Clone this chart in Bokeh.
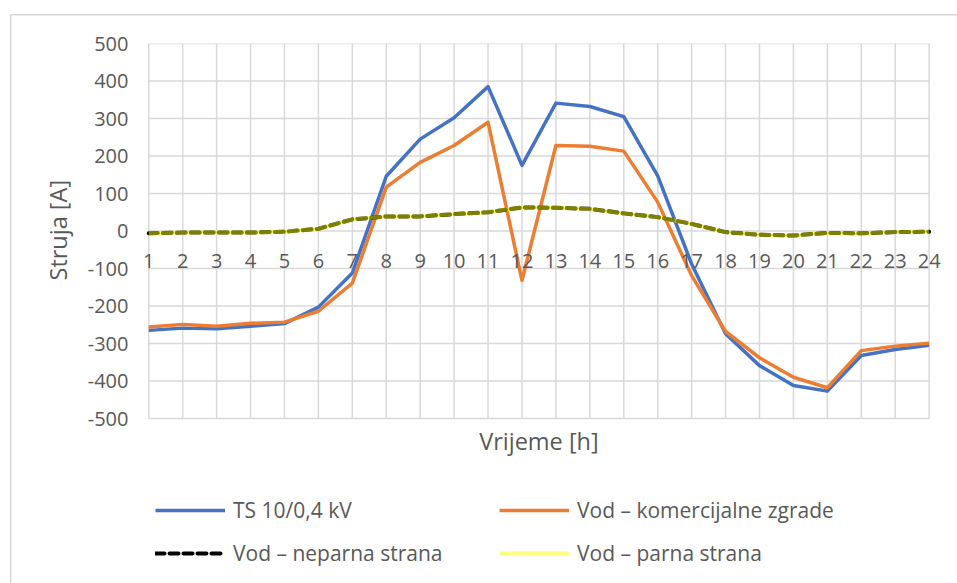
from bokeh.plotting import figure
from bokeh.models import Range1d, FixedTicker, Legend, LegendItem, PrintfTickFormatter, Title, Label
from bokeh.embed import file_html
from bokeh.resources import INLINE

hours = list(range(1, 25))
ts_values = [-265, -259, -261, -254, -247, -203, -112, 146, 245, 302, 385, 175,
             341, 332, 305, 147, -88, -274, -359, -412, -427, -332, -316, -305]
komercijalne = [-256, -249, -254, -246, -243, -214, -139, 117, 183, 228, 290, -132,
                228, 226, 213, 77, -119, -268, -338, -390, -418, -319, -307, -299]
neparna = [-6, -4, -4, -4, -2, 6, 31, 39, 39, 45, 50, 63,
           62, 59, 47, 37, 19, -3, -10, -12, -5, -6, -3, -2]
parna = [-6, -4, -4, -4, -2, 6, 31, 39, 39, 45, 50, 63,
         62, 59, 47, 37, 19, -3, -10, -12, -5, -6, -3, -2]
y_ticks = list(range(-500, 501, 100))

FONT = "Open Sans"
TXT = "#595959"
GRID = "#d9d9d9"
PAD_L, PAD_R = 0.42, 0.6  # extra room (in hours) so the edge tick labels are not clipped
FRAME_H = 540
PLOT_H = 375  # pixels spanned by the -500..500 value range
y_low = y_ticks[-1] - (y_ticks[-1] - y_ticks[0]) * FRAME_H / PLOT_H

p = figure(frame_width=815, frame_height=FRAME_H, output_backend="svg", toolbar_location=None,
           x_range=Range1d(hours[0] - PAD_L, hours[-1] + PAD_R), y_range=Range1d(y_low, y_ticks[-1]),
           min_border_left=134, min_border_right=8, min_border_top=43, min_border_bottom=0)
p.outline_line_color = None
p.background_fill_color = None
p.border_fill_color = None
p.styles = {
    "background-color": "white",
    "background-image": "linear-gradient(#d9d9d9,#d9d9d9), linear-gradient(#d9d9d9,#d9d9d9)",
    "background-size": "1.5px 100%, 100% 1.5px",
    "background-position": "10px 14px, 10px 14px",
    "background-repeat": "no-repeat",
}

# gridlines, restricted to the hour / value span
p.xgrid.grid_line_color = None
p.ygrid.grid_line_color = None
p.multi_line(xs=[[hours[0], hours[-1]] for _ in y_ticks], ys=[[t, t] for t in y_ticks],
             line_color=GRID, line_width=1.5)
p.multi_line(xs=[[h, h] for h in hours], ys=[[y_ticks[0], y_ticks[-1]] for _ in hours],
             line_color=GRID, line_width=1.5)

# y axis
ya = p.yaxis[0]
ya.ticker = FixedTicker(ticks=y_ticks)
ya.formatter = PrintfTickFormatter(format="%d")
ya.axis_line_color = None
ya.major_tick_line_color = None
ya.minor_tick_line_color = None
ya.major_label_text_font = FONT
ya.major_label_text_font_size = "20px"
ya.major_label_text_color = TXT
ya.major_label_standoff = 0

ytitle = Title(text="Struja [A]", align="left", offset=303, standoff=22,
               text_font=FONT, text_font_size="23.5px", text_font_style="normal",
               text_color=TXT)
p.add_layout(ytitle, "left")

# x axis at zero
xa = p.xaxis[0]
xa.fixed_location = 0
xa.ticker = FixedTicker(ticks=hours)
xa.axis_line_color = None
xa.major_tick_line_color = None
xa.minor_tick_line_color = None
xa.major_label_text_font = FONT
xa.major_label_text_font_size = "20px"
xa.major_label_text_color = TXT
xa.major_label_standoff = 17

xtitle = Label(x=(hours[0] + hours[-1]) / 2, y=y_ticks[0], y_offset=-22, text="Vrijeme [h]",
               text_align="center", text_baseline="middle", text_font=FONT,
               text_font_size="23.5px", text_color=TXT)
p.add_layout(xtitle)

r_ts = p.line(hours, ts_values, line_color="#4472C4", line_width=3.5, line_join="round")
r_kom = p.line(hours, komercijalne, line_color="#ED7D31", line_width=3.5, line_join="round")
r_nep = p.line(hours, neparna, line_color="black", line_width=4, line_dash="9 5",
               line_cap="round", line_join="round")
r_par = p.line(hours, parna, line_color="yellow", line_alpha=0.5, line_width=4,
               line_join="round")

# items are filled column by column: first column TS / neparna, second kom. / parna
legend = Legend(items=[
    LegendItem(label="TS 10/0,4 kV", renderers=[r_ts]),
    LegendItem(label="Vod \u2013 neparna strana", renderers=[r_nep]),
    LegendItem(label="Vod \u2013 komercijalne zgrade", renderers=[r_kom]),
    LegendItem(label="Vod \u2013 parna strana", renderers=[r_par]),
], ncols=2, location=(21, 16))
legend.border_line_color = None
legend.background_fill_alpha = 0
legend.glyph_width = 70
legend.label_standoff = 8
legend.label_width = 251
legend.spacing = 15
legend.padding = 4
legend.margin = 0
legend.label_text_font = FONT
legend.label_text_font_size = "21px"
legend.label_text_color = TXT
p.add_layout(legend, "center")

open("out.html", "w").write(file_html(p, INLINE))
